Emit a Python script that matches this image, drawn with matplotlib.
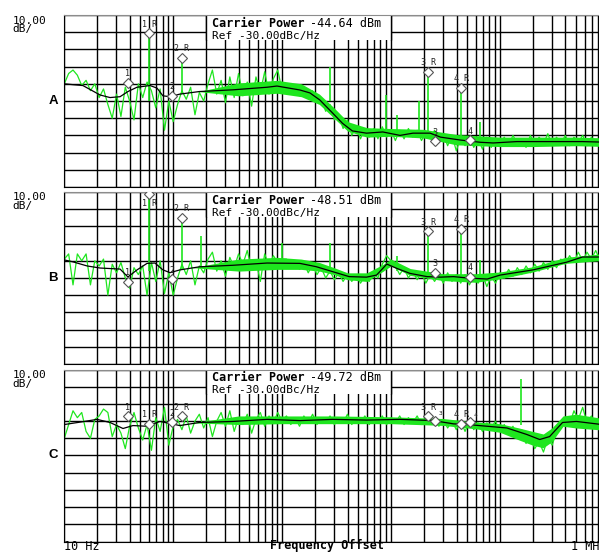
import numpy as np
import matplotlib
matplotlib.use("Agg")
import matplotlib.pyplot as plt
from matplotlib.ticker import LogLocator, MultipleLocator, NullFormatter

# --- datos (dBc/Hz) ---
panels = ["A", "B", "C"]
carrier_dbm = ["-44.64", "-48.51", "-49.72"]
ref_text = "Ref -30.00dBc/Hz"

# traza verde (ruido medido), 25 puntos por decada de 10 Hz a 1 MHz
green_a = [-70, -64, -62, -65, -71, -68, -74, -70, -78, -73, -82, -90, -76, -89, -72, -80, -91, -70, -78, -69,
           -74, -84, -73, -97, -80, -92,
           -82, -74, -79, -72, -88, -75, -80, -70, -62, -76, -68, -81, -66, -78, -64, -77, -69, -83, -66, -75,
           -63, -76, -67, -62, -74,
           -70, -76, -71, -77, -72, -78, -74, -81, -78, -86, -82, -91, -88, -96, -91, -100, -95, -102, -96, -101,
           -96, -102, -95, -101, -97,
           -103, -97, -102, -96, -101, -97, -103, -98, -102, -97, -104, -99, -106, -100, -109, -101, -106, -101,
           -107, -102, -108, -101, -107, -102, -106,
           -101, -106, -100, -105, -102, -107, -100, -106, -101, -105, -99, -106, -101, -105, -100, -106, -101,
           -104, -100, -106, -101, -105, -102, -106, -103]
green_b = [-69, -66, -84, -66, -70, -66, -84, -70, -73, -69, -90, -72, -77, -71, -80, -86, -74, -78, -73, -90,
           -71, -82, -70, -89, -77, -90,
           -80, -72, -78, -70, -84, -73, -77, -69, -65, -76, -70, -79, -68, -74, -66, -72, -64, -75, -70, -82,
           -66, -73, -67, -71, -69,
           -69, -74, -70, -75, -71, -77, -72, -78, -74, -80, -76, -81, -77, -82, -78, -82, -78, -83, -79, -82,
           -77, -80, -72, -67, -70,
           -73, -78, -74, -80, -76, -81, -77, -83, -78, -82, -78, -83, -77, -82, -78, -83, -78, -84, -79, -83,
           -78, -85, -79, -83, -77,
           -80, -75, -79, -74, -78, -73, -77, -72, -76, -71, -75, -70, -74, -69, -72, -67, -71, -65, -70, -65,
           -69, -64, -70, -65, -69]
green_c = [-70, -62, -54, -58, -55, -66, -70, -59, -57, -53, -55, -69, -62, -67, -76, -63, -55, -64, -71, -62,
           -77, -58, -66, -52, -74, -63,
           -59, -65, -57, -67, -60, -56, -64, -58, -69, -60, -55, -63, -54, -66, -58, -62, -56, -67, -59, -55,
           -63, -57, -61, -55, -60,
           -57, -62, -58, -63, -57, -61, -56, -62, -58, -61, -57, -62, -58, -61, -56, -62, -58, -61, -57, -62,
           -58, -61, -57, -62, -58,
           -61, -57, -62, -58, -61, -57, -62, -58, -61, -58, -63, -59, -64, -60, -65, -60, -66, -60, -65, -61,
           -66, -61, -64, -60, -66,
           -62, -67, -63, -69, -65, -73, -68, -76, -72, -78, -70, -74, -66, -64, -58, -62, -54, -59, -52, -61,
           -57, -63, -59, -64, -60]

# banda densa de ruido a frecuencias altas (envolventes)
band_f_a = [170, 400, 900, 1500, 2200, 3000, 4000, 6000, 10000, 20000, 40000, 100000, 200000, 500000, 1000000]
band_hi_a = [-74.5, -69.5, -68, -70, -76, -84, -92, -95.5, -96, -96.5, -99.5, -101, -101, -101, -101.5]
band_lo_a = [-74.5, -77, -75.5, -77.5, -82, -90, -97.5, -101, -100.5, -101.5, -105.5, -106.5, -106.5, -106, -106.5]
band_f_b = [150, 400, 900, 1500, 2200, 3000, 4000, 6000, 8500, 10000, 15000, 30000, 60000, 100000, 200000,
            400000, 1000000]
band_hi_b = [-74, -69, -68, -69, -71, -74, -77, -77, -72, -69, -74.5, -77.5, -77.5, -76.5, -73.5, -68, -65.5]
band_lo_b = [-74, -76, -75, -75, -76, -78, -81, -82, -76, -73, -78.5, -81.5, -82.5, -80.5, -76.5, -71.5, -69.5]
band_f_c = [150, 400, 1000, 3000, 10000, 30000, 60000, 100000, 150000, 200000, 250000, 300000, 380000,
            500000, 1000000]
band_hi_c = [-61, -57, -57, -57, -57.5, -58.5, -60.5, -61.5, -64, -66, -67.5, -64, -57, -56, -59]
band_lo_c = [-61, -62, -61.5, -61.5, -61.5, -62.5, -64.5, -66.5, -71, -74, -75.5, -72, -63, -64, -65.5]

# espurias
spur_f_a = [60, 120, 2750, 9000, 11300, 18100, 21900, 44200, 66100]
spur_top_a = [-40.5, -55, -60, -76.5, -88, -80, -63.5, -72, -92]
spur_bot_a = [-80, -76, -80, -98, -99, -99, -99, -103, -105]
spur_f_b = [60, 120, 180, 1000, 2750, 11300, 21900, 44200, 66100]
spur_top_b = [-31, -45, -55.7, -59.7, -59.7, -67, -52.8, -51.7, -69.5]
spur_bot_b = [-76, -75, -74, -72, -76, -76, -79, -80, -80]
spur_f_c = [156000]
spur_top_c = [-35.8]
spur_bot_c = [-62]

# traza negra (suavizada)
black_f_a = [10, 12, 14.8, 21.3, 26.3, 32.5, 38.4, 46.5, 61.2, 71, 80.5, 93.6, 115, 174, 354, 727, 898, 1457,
             1800, 2220, 2910, 3590, 4420, 5960, 8410, 12100, 15900, 22900, 28500, 43300, 66100, 86700, 143000,
             286000, 573000, 1000000]
black_a = [-70, -70.5, -71, -76.5, -78, -77.5, -74.5, -72, -71, -72.5, -77, -77.5, -76, -74.5, -73.5, -72, -71.3,
           -73.6, -75.3, -79.4, -87, -93, -97.4, -98.7, -98, -100, -98.7, -98.7, -101, -102.7, -104, -104.4,
           -103.6, -103.6, -103.6, -104]
black_f_b = [10, 12, 16.2, 21.3, 32.5, 38.4, 46.5, 57.5, 68, 80.5, 93.6, 115, 174, 354, 727, 1457, 2050, 2910,
             4130, 5960, 7370, 8410, 9140, 11300, 14900, 21400, 28500, 37500, 50300, 76500, 100500, 201000,
             410000, 573000, 1000000]
black_b = [-69.5, -70.6, -73, -74.2, -74.8, -79.4, -75.3, -71.5, -71.3, -75.3, -76.9, -75.3, -73.5, -72.6, -71.3,
           -71.5, -73.4, -76.3, -79.2, -79.5, -78.3, -74.4, -71.9, -74.4, -77.3, -79.2, -79.5, -79.2, -80, -80.6,
           -78.3, -75.3, -70.8, -67.8, -67.8]
black_f_c = [10, 13.3, 20, 26.3, 34.6, 42.7, 57.5, 75.6, 93.6, 115, 174, 354, 727, 1457, 2910, 5960, 12100,
             24500, 37500, 50300, 76500, 116000, 177000, 232000, 286000, 376000, 505000, 1000000]
black_c = [-62, -60.8, -59, -60.8, -64.3, -62.6, -63, -60.2, -61.4, -62.6, -60.8, -60.2, -59, -59.7, -59, -59.4,
           -59, -59.7, -61.6, -62, -63, -64, -67.8, -70.7, -69, -60.8, -60.2, -62.5]

# marcadores
marker_names = ["1", "1 R", "2", "2 R", "3 R", "3", "4 R", "4"]
marker_f = [38.4, 60, 97.5, 120, 21900, 25100, 44200, 53600]
marker_a = [-69.5, -40.5, -77, -55, -63, -103.3, -72.4, -102.7]
marker_b = [-82.3, -31.2, -80.6, -45, -52.7, -77, -51.5, -79.4]
marker_c = [-57.3, -61.4, -60.8, -57.3, -57.3, -59.7, -61.4, -60.8]

greens = [green_a, green_b, green_c]
bands = [(band_f_a, band_lo_a, band_hi_a), (band_f_b, band_lo_b, band_hi_b), (band_f_c, band_lo_c, band_hi_c)]
spurs = [(spur_f_a, spur_bot_a, spur_top_a), (spur_f_b, spur_bot_b, spur_top_b), (spur_f_c, spur_bot_c, spur_top_c)]
blacks = [(black_f_a, black_a), (black_f_b, black_b), (black_f_c, black_c)]
markers = [marker_a, marker_b, marker_c]

green_f = np.geomspace(10, 1e6, len(green_a))

GREEN = "#1ee61e"
MONO = "DejaVu Sans Mono"

W, H = 599, 552
fig = plt.figure(figsize=(W / 100, H / 100), dpi=100)

x0, x1 = 64.3, 608.8          # pixeles: 10 Hz y 1 MHz
tops = [15, 192, 369.5]
ph = 172

for k, name in enumerate(panels):
    top = tops[k]
    ax = fig.add_axes([x0 / W, 1 - (top + ph) / H, (x1 - x0) / W, ph / H])
    ax.set_xscale("log")
    ax.set_xlim(10, 1e6)
    ax.set_ylim(-130, -30)

    ax.xaxis.set_major_locator(LogLocator(base=10, numticks=10))
    ax.xaxis.set_minor_locator(LogLocator(base=10, subs=range(2, 10), numticks=100))
    ax.xaxis.set_minor_formatter(NullFormatter())
    ax.yaxis.set_major_locator(MultipleLocator(10))
    ax.tick_params(which="both", length=0, labelbottom=False, labelleft=False)
    ax.set_axisbelow(True)
    ax.grid(True, which="both", color="black", lw=1.0)

    ax.spines["right"].set_visible(False)
    ax.spines["top"].set_color("#8c8c8c")
    ax.spines["top"].set_linestyle((0, (1, 1)))
    ax.spines["left"].set_color("black")
    ax.spines["bottom"].set_color("black")

    # recuadro de texto (tapa la rejilla)
    ax.fill_between([200, 10000], -44.5, -30, color="white", lw=0, zorder=1)
    ax.vlines([200, 10000], -44.5, -30, color="black", lw=1.0, zorder=1.1)
    ax.text(0.2713, 0.9506, "Carrier Power", transform=ax.transAxes, family=MONO, fontweight="bold",
            fontsize=8.5, va="center", ha="left", zorder=6)
    ax.text(0.4513, 0.9506, carrier_dbm[k] + " dBm", transform=ax.transAxes, family=MONO,
            fontsize=8.5, va="center", ha="left", zorder=6)
    ax.text(0.2713, 0.878, ref_text, transform=ax.transAxes, family=MONO,
            fontsize=8, va="center", ha="left", zorder=6)

    # trazas
    bf, blo, bhi = bands[k]
    ax.fill_between(bf, blo, bhi, color=GREEN, lw=0, zorder=2)
    ax.plot(green_f, greens[k], color=GREEN, lw=0.9, zorder=2.1)
    sf, sb, st = spurs[k]
    ax.vlines(sf, sb, st, color=GREEN, lw=1.2, zorder=2.1)
    ax.plot(blacks[k][0], blacks[k][1], color="black", lw=0.9, zorder=3)

    ax.plot(marker_f, markers[k], "D", ms=5.2, mfc="white", mec="#555555", mew=0.8, ls="none", zorder=4)
    for nm, f, lv in zip(marker_names, marker_f, markers[k]):
        dx, dy = 0, 6.5
        if lv > -33:
            dy = -6.5
        if k == 2 and nm in ("3", "4"):
            dx, dy = 4, 5
        ax.annotate(nm, (f, lv), xytext=(dx, dy), textcoords="offset points", ha="center", va="center",
                    fontsize=6 if dx == 0 else 4.5, family=MONO, color="#222222", zorder=5)

    # etiquetas de la izquierda
    fig.text(12.7 / W, 1 - (top + 5.5) / H, "10.00", family=MONO, fontsize=8, va="center", ha="left")
    fig.text(12.7 / W, 1 - (top + 14) / H, "dB/", family=MONO, fontsize=8, va="center", ha="left")
    fig.text(53 / W, 1 - (top + 86) / H, name, family="Liberation Sans", fontweight="bold", fontsize=9.5,
             va="center", ha="center")

fig.text(x0 / W, 1 - 546 / H, "10 Hz", family=MONO, fontsize=8.5, va="center", ha="left")
fig.text(327 / W, 1 - 546 / H, "Frequency Offset", family=MONO, fontweight="bold", fontsize=8.5,
         va="center", ha="center")
fig.text(571 / W, 1 - 546 / H, "1 MHz", family=MONO, fontsize=8.5, va="center", ha="left")

fig.savefig("out.png", dpi=100, facecolor="white")
